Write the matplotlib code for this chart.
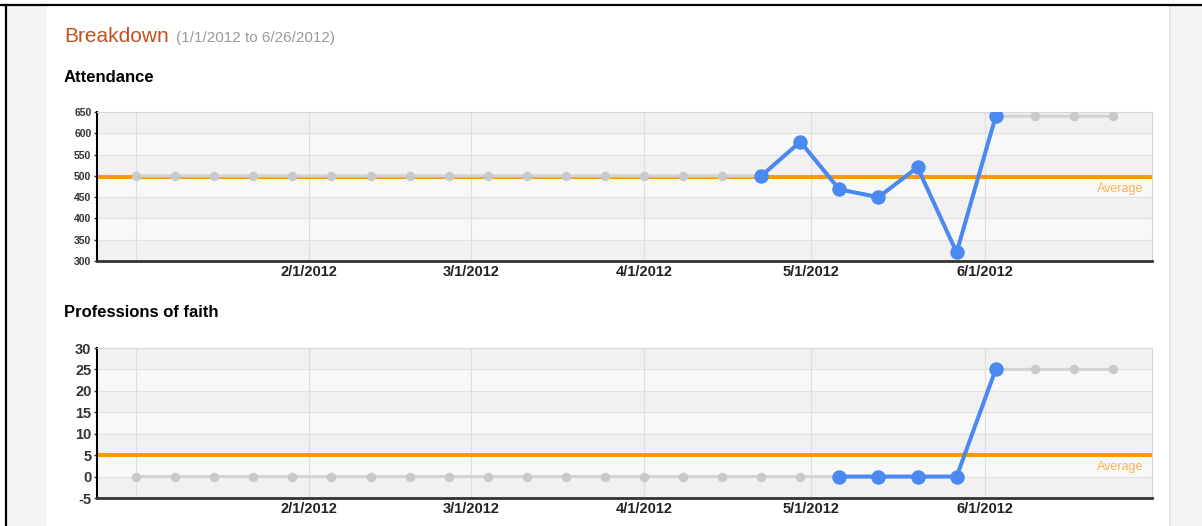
import datetime
import matplotlib

matplotlib.use("Agg")
import matplotlib.pyplot as plt
import matplotlib.transforms as mtransforms
from matplotlib.patches import Rectangle
from matplotlib.lines import Line2D

plt.rcParams["font.family"] = ["Liberation Sans", "DejaVu Sans"]
plt.rcParams["axes.unicode_minus"] = False

# weekly data points (Sundays)
week_dates = [
    "2012-01-01", "2012-01-08", "2012-01-15", "2012-01-22", "2012-01-29",
    "2012-02-05", "2012-02-12", "2012-02-19", "2012-02-26", "2012-03-04",
    "2012-03-11", "2012-03-18", "2012-03-25", "2012-04-01", "2012-04-08",
    "2012-04-15", "2012-04-22", "2012-04-29", "2012-05-06", "2012-05-13",
    "2012-05-20", "2012-05-27", "2012-06-03", "2012-06-10", "2012-06-17",
    "2012-06-24",
]

attendance = [500, 500, 500, 500, 500, 500, 500, 500, 500, 500, 500, 500, 500,
              500, 500, 500, 500, 580, 468, 450, 520, 320, 640, 640, 640, 640]
attendance_recorded = (16, 22)   # first / last recorded index
attendance_avg = 498
attendance_ticks = [300, 350, 400, 450, 500, 550, 600, 650]

professions = [0, 0, 0, 0, 0, 0, 0, 0, 0, 0, 0, 0, 0,
               0, 0, 0, 0, 0, 0, 0, 0, 0, 25, 25, 25, 25]
professions_recorded = (18, 22)
professions_avg = 5
professions_ticks = [-5, 0, 5, 10, 15, 20, 25, 30]

month_lines = ["2012-01-01", "2012-02-01", "2012-03-01", "2012-04-01",
               "2012-05-01", "2012-06-01"]
month_labels = ["", "2/1/2012", "3/1/2012", "4/1/2012", "5/1/2012", "6/1/2012"]

x_range = ("2011-12-25", "2012-07-01")

W, H = 1202, 526
BLUE = "#4a8af0"
GRAY_LINE = "#d4d4d4"
GRAY_DOT = "#c9c9c9"
ORANGE = "#ff9900"


def d(s):
    return datetime.datetime.strptime(s, "%Y-%m-%d")


dates = [d(s) for s in week_dates]

fig = plt.figure(figsize=(W / 100, H / 100), dpi=100)
fig.patch.set_facecolor("white")

# page chrome: gray side strips and black screenshot border
fig.patches.append(Rectangle((7 / W, 0), (45 - 7) / W, 1 - 6 / H,
                             transform=fig.transFigure, color="#f4f4f4", zorder=0))
fig.patches.append(Rectangle((1170 / W, 0), (W - 1170) / W, 1 - 6 / H,
                             transform=fig.transFigure, color="#f4f4f4", zorder=0))
fig.lines.append(Line2D([1169.5 / W, 1169.5 / W], [0, 1 - 6 / H],
                        transform=fig.transFigure, color="#e2e2e2", lw=1.2))
fig.lines.append(Line2D([0, 1], [1 - 5 / H, 1 - 5 / H],
                        transform=fig.transFigure, color="black", lw=1.6))
fig.lines.append(Line2D([6 / W, 6 / W], [0, 1 - 5 / H],
                        transform=fig.transFigure, color="black", lw=1.6))

fig.text(64 / W, 1 - 42 / H, "Breakdown", fontsize=15, color="#c4501e",
         va="baseline", ha="left")
fig.text(176 / W, 1 - 42 / H, "(1/1/2012 to 6/26/2012)", fontsize=11,
         color="#9a9a9a", va="baseline", ha="left")
fig.text(64 / W, 1 - 81.5 / H, "Attendance", fontsize=12, fontweight="bold",
         color="black", va="baseline", ha="left")
fig.text(64 / W, 1 - 317 / H, "Professions of faith", fontsize=12,
         fontweight="bold", color="black", va="baseline", ha="left")


def draw_chart(ax, values, recorded, avg, ticks, ytick_size):
    lo, hi = ticks[0], ticks[-1]
    n = len(ticks) - 1
    for i in range(n):
        # top band darker, then alternating
        ax.axhspan(ticks[i], ticks[i + 1],
                   color="#f1f1f1" if (n - 1 - i) % 2 == 0 else "#f8f8f8",
                   lw=0, zorder=0)
    for t in ticks[1:-1]:
        ax.axhline(t, color="#e2e2e2", lw=0.8, zorder=1)
    for m in month_lines:
        ax.axvline(d(m), color="#dedede", lw=0.8, zorder=1)

    ax.axhline(avg, color=ORANGE, lw=2.9, zorder=2)

    ax.plot(dates, values, color=GRAY_LINE, lw=2.2, marker="o", ms=5.8,
            mfc=GRAY_DOT, mec=GRAY_DOT, zorder=3)
    a, b = recorded
    ax.plot(dates[a:b + 1], values[a:b + 1], color=BLUE, lw=2.9, marker="o",
            ms=9.4, mfc=BLUE, mec=BLUE, zorder=4, solid_joinstyle="round")

    offset = mtransforms.ScaledTranslation(0, -4.5 / 72, fig.dpi_scale_trans)
    ax.text(0.9915, avg, "Average",
            transform=ax.get_yaxis_transform() + offset,
            ha="right", va="top", fontsize=9, color="#f8b450", zorder=5)

    ax.set_ylim(lo, hi)
    ax.set_yticks(ticks)
    ax.set_xlim(d(x_range[0]), d(x_range[1]))
    ax.set_xticks([d(m) for m in month_lines])
    ax.set_xticklabels(month_labels)
    ax.tick_params(axis="x", length=0, pad=3, labelsize=10.5, labelcolor="#222222")
    ax.tick_params(axis="y", length=2, width=1, pad=2, labelsize=ytick_size,
                   labelcolor="#333333", color="#333333")
    for lab in ax.get_xticklabels() + ax.get_yticklabels():
        lab.set_fontweight("bold")

    ax.spines["left"].set_color("black")
    ax.spines["left"].set_linewidth(1.5)
    ax.spines["bottom"].set_color("#333333")
    ax.spines["bottom"].set_linewidth(2)
    for s in ("top", "right"):
        ax.spines[s].set_color("#d6d6d6")
        ax.spines[s].set_linewidth(0.8)


ax1 = fig.add_axes([97 / W, 1 - 261 / H, (1152 - 97) / W, (261 - 112) / H])
draw_chart(ax1, attendance, attendance_recorded, attendance_avg,
           attendance_ticks, 7.5)

ax2 = fig.add_axes([97 / W, 1 - 498 / H, (1152 - 97) / W, (498 - 348) / H])
draw_chart(ax2, professions, professions_recorded, professions_avg,
           professions_ticks, 10.5)

fig.savefig("out.png", dpi=100, facecolor=fig.get_facecolor())
